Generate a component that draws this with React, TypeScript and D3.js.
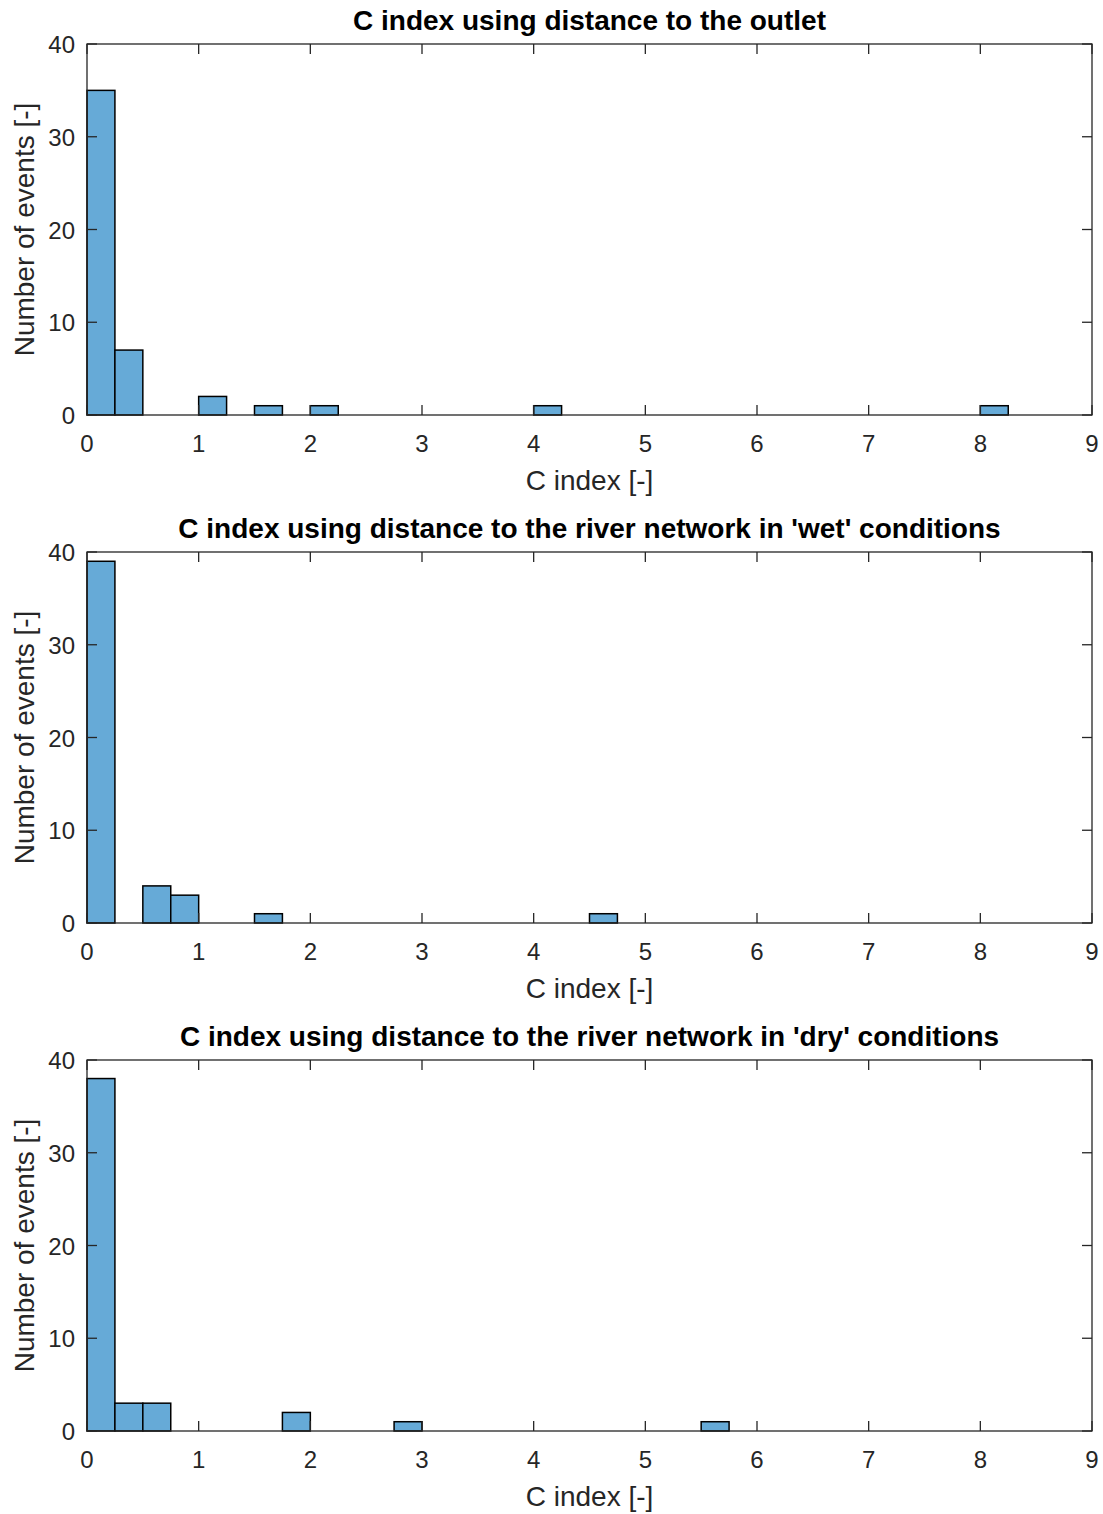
import * as d3 from "d3";

// bin starts (C index) and counts for each subplot, bin width 0.25
const binWidth = 0.25;

const outletBins = [0, 0.25, 1, 1.5, 2, 4, 8];
const outletCounts = [35, 7, 2, 1, 1, 1, 1];

const wetBins = [0, 0.5, 0.75, 1.5, 4.5];
const wetCounts = [39, 4, 3, 1, 1];

const dryBins = [0, 0.25, 0.5, 1.75, 2.75, 5.5];
const dryCounts = [38, 3, 3, 2, 1, 1];

const titles = [
  "C index using distance to the outlet",
  "C index using distance to the river network in 'wet' conditions",
  "C index using distance to the river network in 'dry' conditions",
];

const xTicks = [0, 1, 2, 3, 4, 5, 6, 7, 8, 9];
const yTicks = [0, 10, 20, 30, 40];

const W = 1103;
const H = 1514;
const left = 87;
const right = 1092;
const tops = [44, 552, 1060];
const plotH = 371;
const tickLen = 10;
const axisColor = "#262626";
const barFill = "#66aad7";
const font = "'Liberation Sans', Arial, Helvetica, sans-serif";

function Panel({ top, title, bins, counts }: { top: number; title: string; bins: number[]; counts: number[] }) {
  const x = d3.scaleLinear().domain([0, 9]).range([left, right]);
  const y = d3.scaleLinear().domain([0, 40]).range([top + plotH, top]);
  const bottom = top + plotH;

  return (
    <g>
      {bins.map((b, i) => (
        <rect
          key={i}
          x={x(b)}
          y={y(counts[i])}
          width={x(b + binWidth) - x(b)}
          height={y(0) - y(counts[i])}
          fill={barFill}
          stroke="#000"
          strokeWidth={1.5}
        />
      ))}
      <rect x={left} y={top} width={right - left} height={plotH} fill="none" stroke={axisColor} strokeWidth={1.3} />
      {xTicks.map((t) => (
        <g key={"x" + t}>
          <line x1={x(t)} x2={x(t)} y1={bottom} y2={bottom - tickLen} stroke={axisColor} strokeWidth={1.3} />
          <line x1={x(t)} x2={x(t)} y1={top} y2={top + tickLen} stroke={axisColor} strokeWidth={1.3} />
          <text x={x(t)} y={bottom + 37} textAnchor="middle" fontSize={24} fill={axisColor} fontFamily={font}>
            {t}
          </text>
        </g>
      ))}
      {yTicks.map((t) => (
        <g key={"y" + t}>
          <line x1={left} x2={left + tickLen} y1={y(t)} y2={y(t)} stroke={axisColor} strokeWidth={1.3} />
          <line x1={right} x2={right - tickLen} y1={y(t)} y2={y(t)} stroke={axisColor} strokeWidth={1.3} />
          <text x={75} y={y(t) + 9} textAnchor="end" fontSize={24} fill={axisColor} fontFamily={font}>
            {t}
          </text>
        </g>
      ))}
      <text x={(left + right) / 2} y={top - 14} textAnchor="middle" fontSize={28} fontWeight="bold" fill="#000" fontFamily={font}>
        {title}
      </text>
      <text x={(left + right) / 2} y={bottom + 75} textAnchor="middle" fontSize={28} fill={axisColor} fontFamily={font}>
        C index [-]
      </text>
      <text
        transform={`translate(34,${(top + bottom) / 2}) rotate(-90)`}
        textAnchor="middle"
        fontSize={28}
        fill={axisColor}
        fontFamily={font}
      >
        Number of events [-]
      </text>
    </g>
  );
}

export default function App() {
  const data = [
    { bins: outletBins, counts: outletCounts },
    { bins: wetBins, counts: wetCounts },
    { bins: dryBins, counts: dryCounts },
  ];
  return (
    <svg width={W} height={H} style={{ position: "absolute", left: 0, top: 0, background: "#fff" }}>
      {data.map((d, i) => (
        <Panel key={i} top={tops[i]} title={titles[i]} bins={d.bins} counts={d.counts} />
      ))}
    </svg>
  );
}
